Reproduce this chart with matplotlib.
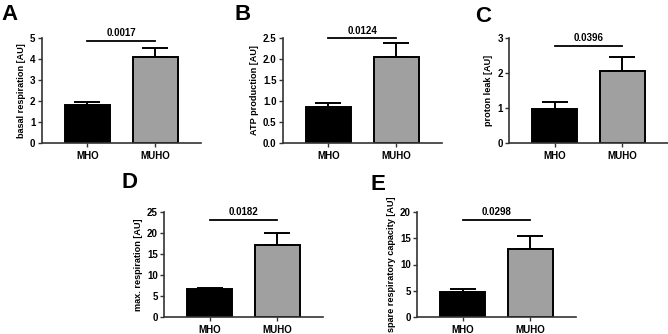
import matplotlib
matplotlib.use("Agg")
import matplotlib.pyplot as plt

plt.rcParams['font.family'] = ['Liberation Sans', 'DejaVu Sans']
plt.rcParams['font.weight'] = 'bold'

groups = ["MHO", "MUHO"]
panels = ["A", "B", "C", "D", "E"]
ylabels = ["basal respiration [AU]", "ATP production [AU]", "proton leak [AU]",
           "max. respiration [AU]", "spare respiratory capacity [AU]"]
means = [[1.81, 4.11], [0.85, 2.04], [0.97, 2.07], [6.6, 17.1], [4.8, 12.95]]
errs = [[0.16, 0.43], [0.11, 0.33], [0.21, 0.40], [0.38, 2.8], [0.53, 2.45]]
pvals = ["0.0017", "0.0124", "0.0396", "0.0182", "0.0298"]
sig_y = [4.87, 2.49, 2.78, 23.1, 18.5]
ymax = [5, 2.5, 3, 25, 20]
yticks = [[0, 1, 2, 3, 4, 5], [0, 0.5, 1.0, 1.5, 2.0, 2.5], [0, 1, 2, 3],
          [0, 5, 10, 15, 20, 25], [0, 5, 10, 15, 20]]
yfmt = ["{:.0f}", "{:.1f}", "{:.0f}", "{:.0f}", "{:.0f}"]

W, H = 668, 334
fig = plt.figure(figsize=(W / 100, H / 100), dpi=100)

# pixel layout: (left, y0 pixel, top pixel), letter pos
layout = [(41.7, 143, 38), (282.7, 143, 38), (509, 143, 38), (164, 317, 212), (417, 317, 212)]
letter_pos = [(1, 15), (234, 15), (475, 16), (121, 182), (371, 185)]
axw = 159
colors = ["#000000", "#a0a0a0"]

for i in range(5):
    l, y0, yt = layout[i]
    ax = fig.add_axes([l / W, (H - y0) / H, axw / W, (y0 - yt) / H])
    x = [0, 1]
    ax.bar(x, means[i], width=0.66, color=colors, edgecolor="black", linewidth=1.4, zorder=2)
    ax.errorbar(x, means[i], yerr=[[0, 0], errs[i]], fmt="none", ecolor="black",
                elinewidth=1.4, capsize=9.5, capthick=1.4, zorder=1)
    ax.set_xlim(-0.67, 1.67)
    ax.set_ylim(0, ymax[i])
    ax.set_yticks(yticks[i])
    ax.set_yticklabels([yfmt[i].format(v) for v in yticks[i]])
    ax.set_xticks(x)
    ax.set_xticklabels(groups)
    for s in ["top", "right"]:
        ax.spines[s].set_visible(False)
    for s in ["left", "bottom"]:
        ax.spines[s].set_linewidth(1.2)
        ax.spines[s].set_color("#333333")
    ax.tick_params(axis="both", labelsize=7, width=1.0, length=3, pad=1.5, color="#333333")
    ax.tick_params(axis="x", pad=3)
    ax.set_ylabel(ylabels[i], fontsize=6.6, fontweight="bold", labelpad=3)
    ax.plot([0, 1], [sig_y[i], sig_y[i]], color="black", lw=1.3, clip_on=False)
    ax.text(0.5, sig_y[i] + ymax[i] * 0.025, pvals[i], ha="center", va="bottom",
            fontsize=7, fontweight="bold", clip_on=False)
    fig.text(letter_pos[i][0] / W, 1 - letter_pos[i][1] / H, panels[i],
             fontsize=16, fontweight="bold", ha="left", va="center")

fig.savefig("out.png", dpi=100)
